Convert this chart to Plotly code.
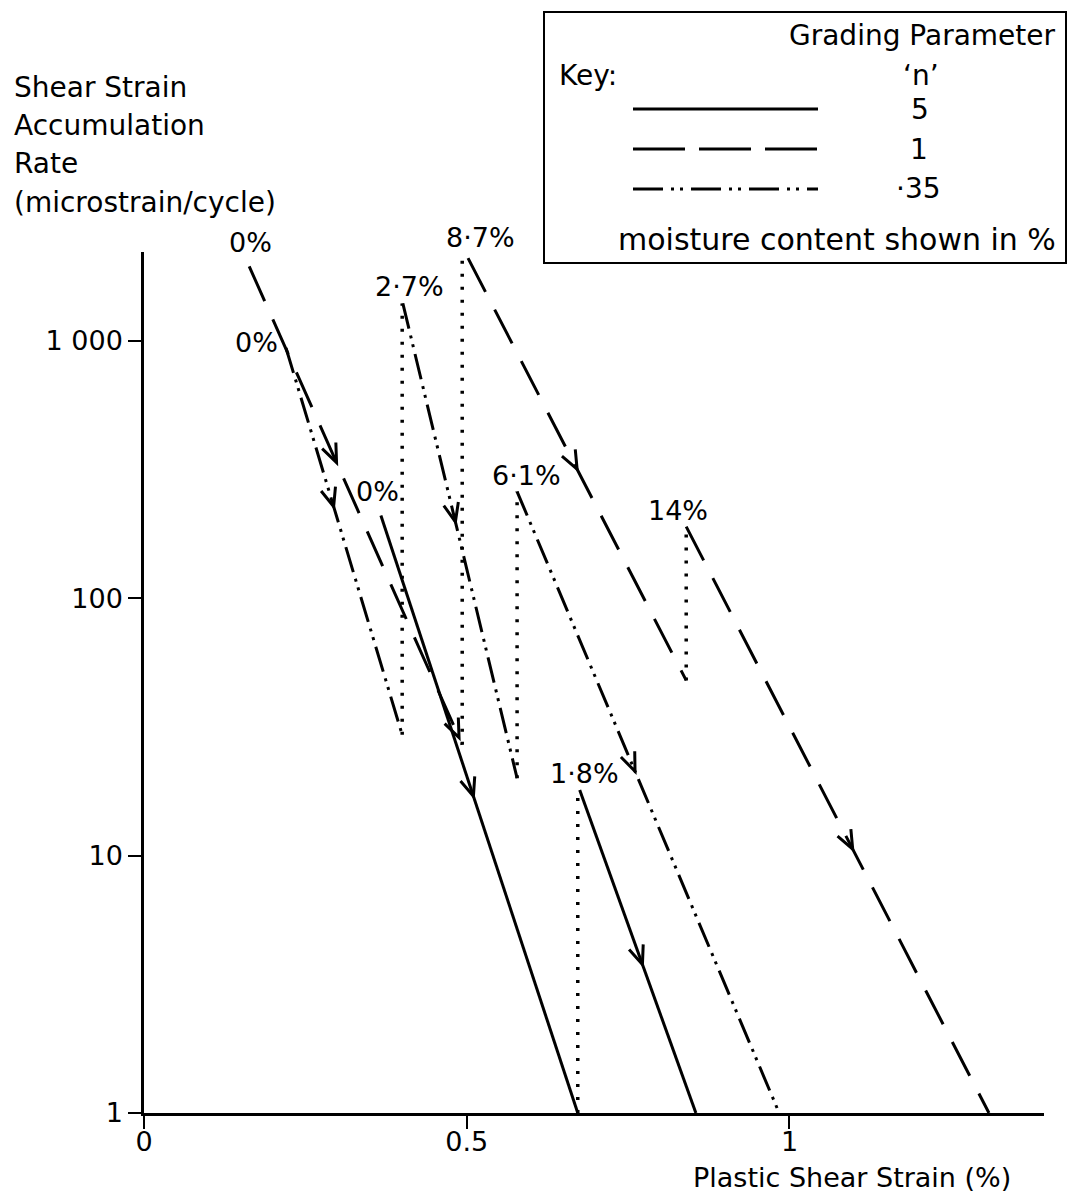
import math
import plotly.graph_objects as go

# ---------------------------------------------------------------
# Shear strain accumulation rate vs plastic shear strain.
# Each test starts dry (0 %) and moisture is added in steps; every
# step restarts the decay line at a higher rate (dotted jumps).
# ---------------------------------------------------------------

# Grading parameter n = 1  (dashed)
n1_moisture = ["0%", "8·7%", "14%"]
n1_strain_start = [0.163, 0.502, 0.840]
n1_rate_start = [1950, 2100, 190]
n1_strain_end = [0.493, 0.840, 1.309]
n1_rate_end = [27, 48, 1]

# Grading parameter n = 5  (solid)
n5_moisture = ["0%", "1·8%"]
n5_strain_start = [0.367, 0.675]
n5_rate_start = [210, 18]
n5_strain_end = [0.672, 0.855]
n5_rate_end = [1, 1]

# Grading parameter n = 0.35  (dash-dot-dot)
n035_moisture = ["0%", "2·7%", "6·1%"]
n035_strain_start = [0.220, 0.401, 0.578]
n035_rate_start = [940, 1400, 260]
n035_strain_end = [0.400, 0.578, 0.984]
n035_rate_end = [29.5, 20, 1]

x_ticks = [0, 0.5, 1]
x_tick_text = ["0", "0.5", "1"]
y_ticks = [1, 10, 100, 1000]
y_tick_text = ["1", "10", "100", "1 000"]

# ---------------- layout geometry ----------------
W, H = 1072, 1197
M_L, M_R, M_T, M_B = 144, 28, 252, 84
PLOT_W = W - M_L - M_R
PLOT_H = H - M_T - M_B
X_RANGE = [0, 1.3943]
Y_RANGE = [0, 3.346]          # log10 units
PX_PER_X = PLOT_W / (X_RANGE[1] - X_RANGE[0])
PX_PER_DECADE = PLOT_H / (Y_RANGE[1] - Y_RANGE[0])

FONT = "DejaVu Sans"
INK = "black"
LINE_W = 3

DASH_N1 = "38px,20px"
DASH_N035 = "26px,7px,3px,6px,3px,7px"
DOTS = "3px,10px"

series = [
    dict(moist=n1_moisture, xs=n1_strain_start, ys=n1_rate_start,
         xe=n1_strain_end, ye=n1_rate_end, dash=DASH_N1,
         arrows=[[0.41, 0.985], [0.50], [0.55]],
         label_shift=[(1, 24), (12, 21), (-8, 16)]),
    dict(moist=n5_moisture, xs=n5_strain_start, ys=n5_rate_start,
         xe=n5_strain_end, ye=n5_rate_end, dash="solid",
         arrows=[[0.47], [0.54]],
         label_shift=[(-3, 24), (5, 16)]),
    dict(moist=n035_moisture, xs=n035_strain_start, ys=n035_rate_start,
         xe=n035_strain_end, ye=n035_rate_end, dash=DASH_N035,
         arrows=[[0.41], [0.46], [0.45]],
         label_shift=[(-30, 5), (7, 17), (9, 16)]),
]

fig = go.Figure()
shapes = []
annotations = []


def arrow_path(dx_px, dy_px, arm=20, half_angle=math.radians(22)):
    """Open V arrowhead (pixel units, y up) pointing along (dx_px, dy_px)."""
    n = math.hypot(dx_px, dy_px)
    bx, by = -dx_px / n, -dy_px / n
    c, s = math.cos(half_angle), math.sin(half_angle)
    p1 = (arm * (bx * c - by * s), arm * (bx * s + by * c))
    p2 = (arm * (bx * c + by * s), arm * (-bx * s + by * c))
    return f"M{p1[0]:.2f},{p1[1]:.2f} L0,0 L{p2[0]:.2f},{p2[1]:.2f}"


for s in series:
    nseg = len(s["xs"])
    for i in range(nseg):
        x0, y0, x1, y1 = s["xs"][i], s["ys"][i], s["xe"][i], s["ye"][i]
        fig.add_trace(go.Scatter(
            x=[x0, x1], y=[y0, y1], mode="lines",
            line=dict(color=INK, width=LINE_W, dash=s["dash"]),
            showlegend=False, hoverinfo="skip", cliponaxis=False))

        # moisture step: dotted jump to the start of the next segment
        if i + 1 < nseg:
            fig.add_trace(go.Scatter(
                x=[x1, x1], y=[y1, s["ys"][i + 1]], mode="lines",
                line=dict(color=INK, width=3.5, dash=DOTS),
                showlegend=False, hoverinfo="skip"))

        # direction arrows along the segment
        ly0, ly1 = math.log10(y0), math.log10(y1)
        dx_px = (x1 - x0) * PX_PER_X
        dy_px = (ly1 - ly0) * PX_PER_DECADE
        for f in s["arrows"][i]:
            xa = x0 + f * (x1 - x0)
            ya = 10 ** (ly0 + f * (ly1 - ly0))
            shapes.append(dict(
                type="path", xref="x", yref="y",
                xsizemode="pixel", ysizemode="pixel",
                xanchor=xa, yanchor=ya,
                path=arrow_path(dx_px, dy_px),
                line=dict(color=INK, width=3),
                fillcolor="rgba(0,0,0,0)"))

        # moisture content label at the start of the segment
        sx, sy = s["label_shift"][i]
        annotations.append(dict(
            x=x0, y=math.log10(y0), xref="x", yref="y",
            text=s["moist"][i], showarrow=False,
            xshift=sx, yshift=sy,
            font=dict(family=FONT, size=27, color=INK)))


# ---------------- helpers for paper positions ----------------
def px_to_paper_x(px):
    return (px - M_L) / PLOT_W


def px_to_paper_y(py):
    return (H - M_B - py) / PLOT_H


# y-axis title (four left-aligned lines)
for line, yc in zip(["Shear Strain", "Accumulation", "Rate",
                     "(microstrain/cycle)"], [87, 125, 164, 202]):
    annotations.append(dict(
        x=px_to_paper_x(12), y=px_to_paper_y(yc), xref="paper", yref="paper",
        text=line, showarrow=False, xanchor="left", yanchor="middle",
        font=dict(family=FONT, size=28, color=INK)))

# x-axis title
annotations.append(dict(
    x=px_to_paper_x(1013), y=px_to_paper_y(1177), xref="paper", yref="paper",
    text="Plastic Shear Strain (%)", showarrow=False,
    xanchor="right", yanchor="middle",
    font=dict(family=FONT, size=27, color=INK)))

# ---------------- key box ----------------
shapes.append(dict(
    type="rect", xref="paper", yref="paper",
    x0=px_to_paper_x(544), x1=px_to_paper_x(1066),
    y0=px_to_paper_y(263), y1=px_to_paper_y(12),
    line=dict(color=INK, width=2), fillcolor="white", layer="below"))

key_font = dict(family=FONT, size=28, color=INK)
key_texts = [
    dict(x=px_to_paper_x(1058), y=px_to_paper_y(35), text="Grading Parameter",
         xanchor="right"),
    dict(x=px_to_paper_x(557), y=px_to_paper_y(76), text="Key:",
         xanchor="left"),
    dict(x=px_to_paper_x(921), y=px_to_paper_y(76), text="‘n’",
         xanchor="center"),
    dict(x=px_to_paper_x(920), y=px_to_paper_y(109), text="5",
         xanchor="center"),
    dict(x=px_to_paper_x(919), y=px_to_paper_y(149), text="1",
         xanchor="center"),
    dict(x=px_to_paper_x(918), y=px_to_paper_y(189), text="·35",
         xanchor="center"),
]
for a in key_texts:
    a.update(xref="paper", yref="paper", showarrow=False, yanchor="middle",
             font=key_font)
annotations += key_texts
annotations.append(dict(
    x=px_to_paper_x(1058), y=px_to_paper_y(240), xref="paper", yref="paper",
    text="moisture content shown in %", xanchor="right", yanchor="middle",
    showarrow=False, font=dict(family=FONT, size=30, color=INK)))

for yk, dash in zip([109, 149, 189],
                    ["solid", "52px,14px", "30px,8px,3px,6px,3px,8px"]):
    shapes.append(dict(
        type="line", xref="paper", yref="paper",
        x0=px_to_paper_x(633), x1=px_to_paper_x(818),
        y0=px_to_paper_y(yk), y1=px_to_paper_y(yk),
        line=dict(color=INK, width=3, dash=dash)))

axis_common = dict(
    showline=True, linecolor=INK, linewidth=2.5,
    ticks="outside", ticklen=13, tickwidth=2, tickcolor=INK,
    showgrid=False, zeroline=False,
    tickfont=dict(family=FONT, size=27, color=INK),
)

fig.update_layout(
    width=W, height=H,
    margin=dict(l=M_L, r=M_R, t=M_T, b=M_B, pad=0),
    paper_bgcolor="white", plot_bgcolor="white",
    showlegend=False,
    xaxis=dict(range=X_RANGE, tickvals=x_ticks, ticktext=x_tick_text,
               ticklabelstandoff=-10, **axis_common),
    yaxis=dict(type="log", range=Y_RANGE, tickvals=y_ticks,
               ticktext=y_tick_text, **axis_common),
    shapes=shapes,
    annotations=annotations,
)

fig.write_html("out.html")
